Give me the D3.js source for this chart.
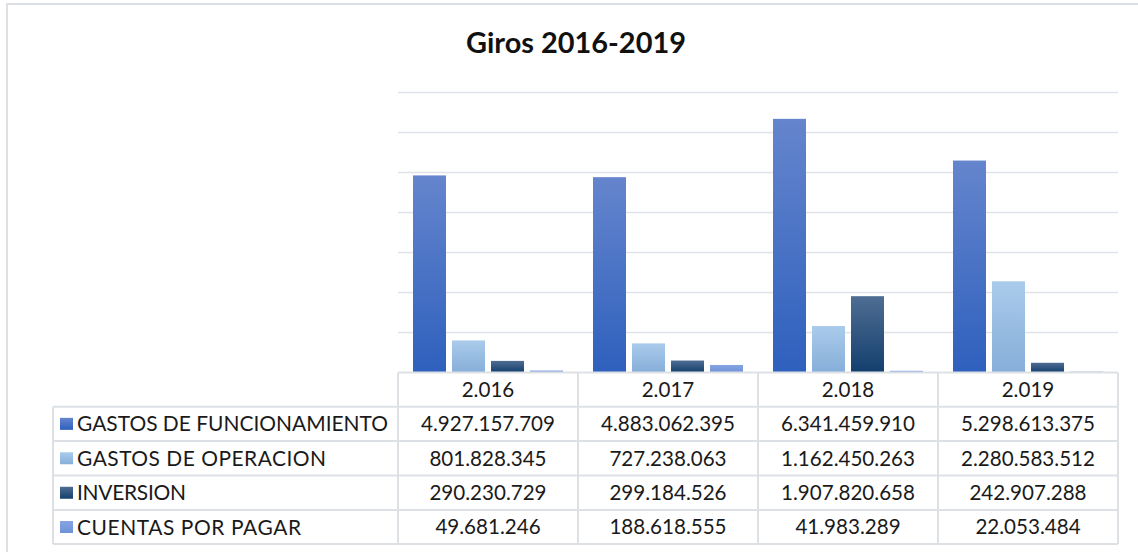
<!DOCTYPE html>
<html><head><meta charset="utf-8">
<script src="https://cdn.jsdelivr.net/npm/d3@7"></script>
<style>html,body{margin:0;padding:0;background:#fff;overflow:hidden}</style>
</head><body><svg id="c" width="1138" height="552"></svg>
<script>
const title = "Giros 2016-2019";
const years = ["2.016", "2.017", "2.018", "2.019"];
const seriesNames = ["GASTOS DE FUNCIONAMIENTO", "GASTOS DE OPERACION", "INVERSION", "CUENTAS POR PAGAR"];
const gastosFuncionamiento = [4927157709, 4883062395, 6341459910, 5298613375];
const gastosOperacion = [801828345, 727238063, 1162450263, 2280583512];
const inversion = [290230729, 299184526, 1907820658, 242907288];
const cuentasPorPagar = [49681246, 188618555, 41983289, 22053484];
const yTicks = [0, 1e9, 2e9, 3e9, 4e9, 5e9, 6e9, 7e9];

const seriesValues = [gastosFuncionamiento, gastosOperacion, inversion, cuentasPorPagar];
const gradients = [["#6585cd", "#2e60bd"], ["#aacbeb", "#86aed9"], ["#4f6d93", "#133f6d"], ["#86a4e2", "#6f92d8"]];
const labelWidths = [311, 249, 109, 224];

const svg = d3.select("#c");
const FONT = "Lato, 'DejaVu Sans', sans-serif";
const fmt = v => d3.format(",")(v).replace(/,/g, ".");

function fitSize(text, weight, target) {
  const t = svg.append("text").attr("font-family", FONT).attr("font-weight", weight).attr("font-size", 100).text(text);
  const w = t.node().getComputedTextLength();
  t.remove();
  return 100 * target / w;
}

const defs = svg.append("defs");
gradients.forEach((g, i) => {
  const lg = defs.append("linearGradient").attr("id", "g" + i).attr("x1", 0).attr("y1", 0).attr("x2", 0).attr("y2", 1);
  lg.append("stop").attr("offset", "0%").attr("stop-color", g[0]);
  lg.append("stop").attr("offset", "100%").attr("stop-color", g[1]);
});

// frame
svg.append("rect").attr("x", 7).attr("y", 4).attr("width", 1200).attr("height", 700)
  .attr("fill", "none").attr("stroke", "#dde1e6").attr("stroke-width", 2);

const plotL = 398, plotR = 1118, plotT = 92.5, plotB = 372.5;
const x0 = d3.scaleBand().domain(years).range([plotL, plotR]).padding(0);
const x1 = d3.scaleBand().domain(d3.range(4)).range([15, x0.bandwidth() - 15]).paddingInner(6 / 39).paddingOuter(0);
const y = d3.scaleLinear().domain([0, 7e9]).range([plotB, plotT]);

// gridlines
svg.append("g").selectAll("line").data(yTicks.slice(1)).join("line")
  .attr("x1", plotL).attr("x2", plotR).attr("y1", d => y(d)).attr("y2", d => y(d))
  .attr("stroke", "#dfe2e7").attr("stroke-width", 1.6);

// bars
const groups = svg.append("g").selectAll("g").data(years).join("g")
  .attr("transform", d => `translate(${x0(d)},0)`);
groups.selectAll("rect").data((d, yi) => seriesValues.map((s, si) => ({si, v: s[yi]}))).join("rect")
  .attr("x", d => x1(d.si)).attr("width", x1.bandwidth())
  .attr("y", d => y(d.v)).attr("height", d => plotB - y(d.v))
  .attr("fill", d => `url(#g${d.si})`);

// title
svg.append("text").attr("x", 576).attr("y", 53).attr("text-anchor", "middle")
  .attr("font-family", FONT).attr("font-weight", "bold").attr("font-size", fitSize(title, "bold", 220))
  .attr("fill", "#111").text(title);

// data table
const tblL = 53;
const rowY = [372.5, 406.7, 441, 475.5, 510, 544];
const valSize = fitSize("4.927.157.709", "normal", 134);
const labSize = fitSize(seriesNames[0], "normal", 311);
const tcol = "#dde1e6";
const tg = svg.append("g");
tg.append("line").attr("x1", plotL).attr("x2", plotR).attr("y1", rowY[0]).attr("y2", rowY[0]).attr("stroke", tcol).attr("stroke-width", 2);
rowY.slice(1).forEach(ry => tg.append("line").attr("x1", tblL).attr("x2", plotR).attr("y1", ry).attr("y2", ry).attr("stroke", tcol).attr("stroke-width", 2));
tg.append("line").attr("x1", tblL).attr("x2", tblL).attr("y1", rowY[1]).attr("y2", rowY[5]).attr("stroke", tcol).attr("stroke-width", 2);
[...years.map(d => x0(d)), plotR].forEach(xx => tg.append("line").attr("x1", xx).attr("x2", xx).attr("y1", rowY[0]).attr("y2", rowY[5]).attr("stroke", tcol).attr("stroke-width", 2));

tg.selectAll("text.h").data(years).join("text").attr("class", "h")
  .attr("x", d => x0(d) + x0.bandwidth() / 2).attr("y", (rowY[0] + rowY[1]) / 2)
  .attr("dy", "0.36em").attr("text-anchor", "middle")
  .attr("font-family", FONT).attr("font-size", valSize).attr("fill", "#1a1a1a").text(d => d);

seriesNames.forEach((name, si) => {
  const cy = (rowY[si + 1] + rowY[si + 2]) / 2;
  tg.append("rect").attr("x", 60).attr("y", cy - 6).attr("width", 13).attr("height", 12).attr("fill", `url(#g${si})`);
  tg.append("text").attr("x", 77).attr("y", cy).attr("dy", "0.36em")
    .attr("font-family", FONT).attr("font-size", labSize).attr("fill", "#1a1a1a")
    .attr("textLength", labelWidths[si]).attr("lengthAdjust", "spacing").text(name);
  tg.selectAll(null).data(seriesValues[si]).join("text")
    .attr("x", (d, i) => x0(years[i]) + x0.bandwidth() / 2).attr("y", cy).attr("dy", "0.36em")
    .attr("text-anchor", "middle").attr("font-family", FONT).attr("font-size", valSize).attr("fill", "#1a1a1a")
    .text(d => fmt(d));
});
</script></body></html>
